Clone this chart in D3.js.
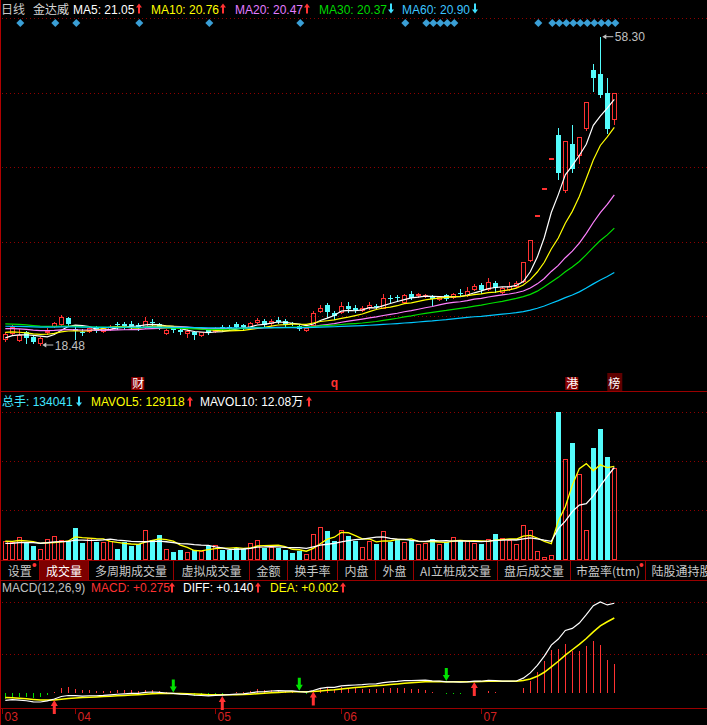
<!DOCTYPE html>
<html><head><meta charset="utf-8">
<script src="https://cdn.jsdelivr.net/npm/d3@7/dist/d3.min.js"></script>
<style>
html,body{margin:0;padding:0;background:#000;overflow:hidden;}
svg{display:block;}
text{font-family:"Liberation Sans",Arial,"Noto Sans CJK SC",sans-serif;font-size:12px;}
.cjk{font-family:"Noto Sans CJK SC","Liberation Sans",sans-serif;}
</style></head><body>
<svg id="chart" width="707" height="725"></svg>
<script>
// ---------------- DATA ----------------
const opens = [19.22,20.00,19.13,20.20,19.47,18.70,20.22,20.93,21.19,21.93,
 20.51,20.20,20.33,20.77,20.33,20.51,21.19,21.15,21.19,21.05,
 20.84,21.49,21.19,19.99,20.64,20.42,19.99,20.20,19.77,20.42,
 20.33,20.84,20.84,21.19,21.05,20.84,21.45,21.62,21.28,21.71,
 21.62,21.36,20.93,20.42,21.06,22.91,23.65,22.60,22.70,23.52,
 23.30,23.00,23.40,23.52,23.30,24.55,24.64,24.07,25.03,24.90,
 24.90,24.80,24.38,24.94,24.64,25.20,24.94,25.68,26.23,25.71,
 26.53,25.36,25.71,26.14,26.75,29.50,35.27,38.79,42.67,45.60,
 38.50,44.44,43.02,46.55,54.00,53.48,51.03,47.63];
const highs = [20.20,21.06,20.51,20.30,19.64,19.47,20.68,21.49,22.30,22.05,
 20.84,20.51,20.80,20.90,20.80,21.00,21.50,21.40,21.60,21.35,
 22.06,21.80,21.30,20.60,20.90,20.60,20.50,20.30,20.20,20.60,
 20.80,21.00,21.00,21.50,21.20,21.50,22.00,21.80,21.80,22.06,
 21.80,21.50,21.10,20.80,22.87,23.65,23.90,22.90,23.99,24.00,
 23.60,23.50,24.00,23.80,25.07,25.00,25.00,25.10,25.45,25.20,
 25.10,24.90,24.85,25.10,25.20,25.71,25.93,26.30,26.45,27.10,
 26.70,26.00,26.58,26.70,29.15,32.06,35.27,38.79,42.67,46.55,
 44.83,46.90,45.35,49.87,54.77,58.30,52.93,51.03];
const lows = [19.04,19.77,18.99,18.70,18.75,18.48,19.90,20.85,21.00,21.00,
 19.22,19.77,20.20,20.10,20.20,20.40,20.60,20.60,20.70,20.42,
 20.70,21.10,20.50,19.90,20.20,19.90,19.55,19.22,19.60,19.90,
 20.20,20.40,20.50,20.70,20.60,20.70,21.30,20.90,21.10,21.30,
 20.90,21.00,20.40,20.30,20.80,22.74,22.13,21.90,22.60,22.78,
 22.80,22.90,23.10,23.10,23.20,24.07,24.30,24.00,24.40,24.72,
 24.70,23.65,24.30,24.30,24.55,24.85,24.85,25.55,25.16,25.60,
 25.36,25.20,25.60,26.00,26.60,29.30,35.27,38.79,42.67,39.92,
 38.28,40.80,42.03,46.25,51.33,50.47,45.83,47.02];
const closes = [19.86,20.77,19.77,19.35,18.83,19.35,20.35,21.28,22.14,21.19,
 20.33,20.03,20.64,20.33,20.64,20.84,21.03,20.98,20.98,20.84,
 21.62,21.28,20.64,20.42,20.42,20.20,20.29,19.77,20.12,19.99,
 20.64,20.51,20.64,20.84,20.77,21.36,21.71,21.06,21.62,21.50,
 21.06,21.19,20.51,20.64,22.57,23.30,22.70,22.20,23.52,23.09,
 23.00,23.26,23.65,23.39,24.51,24.42,24.51,24.90,24.51,25.03,
 25.00,24.38,24.72,24.38,25.07,25.07,25.45,26.14,25.58,26.58,
 25.80,25.80,26.14,26.53,29.15,32.06,35.27,38.79,42.67,40.74,
 44.83,41.21,45.35,49.87,53.00,50.77,46.38,51.03];
const volumes = [138400,125700,165400,118600,101500,78100,149100,172500,142000,132800,
 227200,118600,156200,125700,125700,137000,78100,125700,101500,113600,
 213000,142000,179600,78100,58900,71000,58900,71000,66000,101500,
 108600,71000,71000,85200,78100,120700,142000,83100,94400,83100,
 73100,47600,66000,42600,184600,236400,208000,137000,213000,172500,
 132800,92300,134900,113600,205900,127800,149100,127800,142000,113600,
 120700,149100,113600,127800,163300,142000,134900,120700,113600,149100,
 184600,156200,142000,113600,248500,213000,63900,21300,35500,1050800,
 717100,830700,610600,213000,795200,930100,731300,653200];

// moving-average periods and their values at the first visible bar
const maPeriods = [5, 10, 20, 30, 60];
const maStartValues = [19.40, 20.10, 20.60, 21.20, 20.90];
const volMaPeriods = [5, 10];
const volMaStartValues = [133000, 118000];
// MACD state before the first visible bar (estimated from chart)
const macdSeedEma12 = 20.72, macdSeedEma26 = 21.20, macdSeedDea = -0.25;

const monthLabels = ["03","04","05","06","07"];
const monthStartIndex = [-0.5, 10, 30, 48, 68];
const signalIndex = [2, 7, 10, 19, 29, 42, 57, 60, 61, 62, 63, 64, 76, 78, 79, 80, 81, 82, 83, 84, 85, 86, 87];
const eventIndex = [19, 47, 81, 87];
const eventLabels = ["财", "q", "港", "榜"];
const goldCrossIndex = [7, 31, 44, 67];
const deadCrossIndex = [24, 42, 63];

const headerLabels = ["MA5: 21.05","MA10: 20.76","MA20: 20.47","MA30: 20.37","MA60: 20.90"];
const headerUp = [true, true, true, false, false];
const volHeaderLabels = ["总手: 134041","MAVOL5: 129118","MAVOL10: 12.08万"];
const volHeaderUp = [false, true, true];
const macdHeaderLabels = ["MACD(12,26,9)","MACD: +0.275","DIFF: +0.140","DEA: +0.002"];
const tabLabels = ["设置","成交量","多周期成交量","虚拟成交量","金额","换手率","内盘","外盘","AI立桩成交量","盘后成交量","市盈率(ttm)","陆股通持股"];

// ---------------- STYLE / LAYOUT ----------------
const RED = "#ff3232", CYAN = "#54fcfc", GRID = "#8f0000", BORDER = "#9a0000";
const maColors = ["#ffffff", "#ffff00", "#ff80ff", "#00e000", "#00c8ff"];
const maTextColors = ["#ffffff", "#ffff00", "#e27cff", "#00d800", "#3cc4ff"];
const svg = d3.select("#chart");
const N = closes.length;
const idx = d3.range(N);

svg.append("rect").attr("width", 707).attr("height", 725).attr("fill", "#000");

const x = d3.scaleLinear().domain([0, N - 1]).range([5.3, 614.3]);
const cxOf = i => Math.round(x(i));
const yP = d3.scaleLinear().domain([d3.min(lows), d3.max(highs)]).range([345, 36.7]);
const VB = 560;
const yV = d3.scaleLinear().domain([0, d3.max(volumes)]).range([VB, 412]);

const isUp = i => closes[i] > opens[i] || (closes[i] === opens[i] && (i === 0 || closes[i] >= closes[i - 1]));

function seededMA(vals, n, start) {
  const h = (n * start - vals[0]) / (n - 1);
  return vals.map((_, i) => {
    const lo = Math.max(0, i - n + 1);
    const s = d3.sum(vals.slice(lo, i + 1));
    const missing = n - (i + 1 - lo);
    return (s + missing * h) / n;
  });
}
function ema(vals, n, seed) {
  const k = 2 / (n + 1); let prev = seed;
  return vals.map(v => (prev = prev * (1 - k) + v * k));
}

// ---------------- GRID / BORDERS ----------------
const grid = svg.append("g").attr("shape-rendering", "crispEdges");
const dotted = (y) => grid.append("line").attr("x1", 2).attr("x2", 707).attr("y1", Math.round(y) + 0.5).attr("y2", Math.round(y) + 0.5)
  .attr("stroke", GRID).attr("stroke-dasharray", "1,3");
[0, 1, 2, 3, 4].forEach(k => dotted(18 + k * 74.6));
[412, 461, 510].forEach(dotted);
[602, 654].forEach(dotted);
const solid = (y) => grid.append("line").attr("x1", 0).attr("x2", 707).attr("y1", y).attr("y2", y).attr("stroke", BORDER);
solid(391.5); solid(560.5); solid(580.5); solid(708.5);
grid.append("line").attr("x1", 0.5).attr("x2", 0.5).attr("y1", 0).attr("y2", 725).attr("stroke", "#b00000");

// ---------------- HEADER ----------------
function arrow(g, cx, yTop, up, color) {
  const h = 10;
  if (up) {
    g.append("path").attr("d", `M${cx},${yTop} L${cx - 3},${yTop + 4} L${cx - 1},${yTop + 4} L${cx - 1},${yTop + h} L${cx + 1},${yTop + h} L${cx + 1},${yTop + 4} L${cx + 3},${yTop + 4} Z`).attr("fill", color);
  } else {
    g.append("path").attr("d", `M${cx},${yTop + h} L${cx - 3},${yTop + h - 4} L${cx - 1},${yTop + h - 4} L${cx - 1},${yTop} L${cx + 1},${yTop} L${cx + 1},${yTop + h - 4} L${cx + 3},${yTop + h - 4} Z`).attr("fill", color);
  }
}
const hdr = svg.append("g");
hdr.append("text").attr("class", "cjk").attr("x", 1).attr("y", 13.5).attr("fill", "#c8c8c8").text("日线");
hdr.append("text").attr("class", "cjk").attr("x", 33).attr("y", 13.5).attr("fill", "#d8d8d8").text("金达威");
const hdrX = [73, 151, 235, 319, 402], hdrArrowX = [139, 223, 307, 391, 475];
headerLabels.forEach((t, k) => {
  hdr.append("text").attr("x", hdrX[k]).attr("y", 13.5).attr("fill", maTextColors[k]).text(t);
  arrow(hdr, hdrArrowX[k], 3.5, headerUp[k], headerUp[k] ? RED : "#40e0ff");
});

// diamonds
svg.append("g").selectAll("path").data(signalIndex).join("path")
  .attr("d", i => { const c = x(i) + 1; return `M${c},19 L${c + 4},23 L${c},27 L${c - 4},23 Z`; })
  .attr("fill", "#3a9fd6");

// ---------------- CANDLES ----------------
const gC = svg.append("g").attr("shape-rendering", "crispEdges");
idx.forEach(i => {
  const cx = cxOf(i);
  const yH = Math.round(yP(highs[i])), yL = Math.round(yP(lows[i]));
  const yO = Math.round(yP(opens[i])), yC = Math.round(yP(closes[i]));
  if (highs[i] === lows[i]) {
    gC.append("rect").attr("x", cx - 2).attr("y", yC).attr("width", 5).attr("height", 1.5).attr("fill", RED);
    return;
  }
  const top = Math.min(yO, yC);
  if (isUp(i)) {
    const bot = Math.max(top + 1, Math.max(yO, yC));
    if (yH < top) gC.append("line").attr("x1", cx + 0.5).attr("x2", cx + 0.5).attr("y1", yH).attr("y2", top).attr("stroke", RED);
    if (yL > bot) gC.append("line").attr("x1", cx + 0.5).attr("x2", cx + 0.5).attr("y1", bot + 1).attr("y2", yL + 1).attr("stroke", RED);
    gC.append("rect").attr("x", cx - 1.5).attr("y", top + 0.5).attr("width", 4).attr("height", bot - top)
      .attr("fill", "none").attr("stroke", RED);
  } else {
    const bot = Math.max(top + 1, Math.max(yO, yC));
    gC.append("line").attr("x1", cx + 0.5).attr("x2", cx + 0.5).attr("y1", yH).attr("y2", yL + 1).attr("stroke", CYAN);
    gC.append("rect").attr("x", cx - 2).attr("y", top).attr("width", 5).attr("height", bot - top).attr("fill", CYAN);
  }
});

// MA lines
const mas = maPeriods.map((n, k) => seededMA(closes, n, maStartValues[k]));
const lineP = d3.line().x((d, i) => x(i)).y(d => yP(d));
svg.append("g").selectAll("path").data(mas).join("path")
  .attr("d", lineP).attr("fill", "none").attr("stroke", (d, k) => maColors[k]).attr("stroke-width", 1.2);

// high / low labels
const lo = d3.minIndex(lows), hi = d3.maxIndex(highs);
const lab = svg.append("g");
function extLabel(i, price) {
  const cx = x(i), y = yP(price);
  lab.append("path").attr("d", `M${cx + 2},${y} L${cx + 6},${y - 2.5} L${cx + 6},${y + 2.5} Z`).attr("fill", "#c0c0c0");
  lab.append("line").attr("x1", cx + 5).attr("x2", cx + 13).attr("y1", y).attr("y2", y).attr("stroke", "#c0c0c0");
  lab.append("text").attr("x", cx + 14.5).attr("y", y + 4.5).attr("fill", "#c0c0c0").text(price.toFixed(2));
}
extLabel(lo, lows[lo]);
extLabel(hi, highs[hi]);

// event markers
const ev = svg.append("g");
eventIndex.forEach((i, k) => {
  const cx = x(i);
  const t = eventLabels[k];
  if (t === "q") {
    ev.append("text").attr("x", cx).attr("y", 387).attr("text-anchor", "middle").attr("fill", RED).attr("font-weight", "bold").text(t);
    return;
  }
  const big = t === "榜";
  ev.append("rect").attr("x", cx - 7).attr("y", big ? 373 : 377).attr("width", big ? 15 : 13).attr("height", big ? 18 : 13)
    .attr("fill", big ? "#5e0000" : "#8a0000");
  ev.append("text").attr("class", "cjk").attr("x", cx).attr("y", 388).attr("text-anchor", "middle").attr("fill", "#ffffff").attr("font-size", "12px").text(t);
});

// ---------------- VOLUME ----------------
const vh = svg.append("g");
const vhX = [2, 91, 200], vhArrowX = [79, 190, 309], vhColors = ["#40e8ff", "#ffff00", "#ffffff"];
volHeaderLabels.forEach((t, k) => {
  vh.append("text").attr("x", vhX[k]).attr("y", 406).attr("fill", vhColors[k]).text(t);
  arrow(vh, vhArrowX[k], 396.5, volHeaderUp[k], volHeaderUp[k] ? RED : "#40e0ff");
});
const gV = svg.append("g").attr("shape-rendering", "crispEdges");
idx.forEach(i => {
  const cx = cxOf(i), yt = Math.round(yV(volumes[i]));
  if (isUp(i)) {
    gV.append("rect").attr("x", cx - 1.5).attr("y", yt + 0.5).attr("width", 4).attr("height", Math.max(1, VB - yt - 1))
      .attr("fill", "none").attr("stroke", RED);
  } else {
    gV.append("rect").attr("x", cx - 2).attr("y", yt).attr("width", 5).attr("height", VB - yt).attr("fill", CYAN);
  }
});
const vmas = volMaPeriods.map((n, k) => seededMA(volumes, n, volMaStartValues[k]));
const lineV = d3.line().x((d, i) => x(i)).y(d => yV(d));
svg.append("g").selectAll("path").data(vmas).join("path")
  .attr("d", lineV).attr("fill", "none").attr("stroke", (d, k) => k === 0 ? "#ffff00" : "#ffffff").attr("stroke-width", 1.3);

// ---------------- TABS ----------------
const tabSep = [39.5, 88.5, 173.5, 249.5, 287.5, 337.5, 375.5, 413.5, 497.5, 570.5, 645.5];
const tb = svg.append("g");
tb.append("rect").attr("x", tabSep[0]).attr("y", 561).attr("width", tabSep[1] - tabSep[0]).attr("height", 19).attr("fill", "#7d0000");
tabSep.forEach(s => tb.append("line").attr("x1", s).attr("x2", s).attr("y1", 561).attr("y2", 580).attr("stroke", BORDER).attr("shape-rendering", "crispEdges"));
tabLabels.forEach((t, k) => {
  const l = k === 0 ? 0 : tabSep[k - 1];
  const r = k < tabSep.length ? tabSep[k] : 707;
  const last = k === tabLabels.length - 1;
  tb.append("text").attr("class", "cjk").attr("x", last ? l + 6 : (l + r) / 2).attr("y", 576)
    .attr("text-anchor", last ? "start" : "middle").attr("fill", k === 1 ? "#ffffff" : "#c8c8c8").text(t);
});
[tabSep[0] - 5, tabSep[10] - 4].forEach(cx => tb.append("circle").attr("cx", cx).attr("cy", 565).attr("r", 2).attr("fill", RED));

// ---------------- MACD ----------------
const e12 = ema(closes, 12, macdSeedEma12), e26 = ema(closes, 26, macdSeedEma26);
const diff = e12.map((v, i) => v - e26[i]);
const dea = ema(diff, 9, macdSeedDea);
const macd = diff.map((v, i) => 2 * (v - dea[i]));
const yM = d3.scaleLinear().domain(d3.extent(diff.concat(dea, macd))).range([702, 602]);

const mh = svg.append("g");
const mhX = [2, 91, 183, 270], mhColors = ["#c0c0c0", "#ff3232", "#ffffff", "#ffff00"];
macdHeaderLabels.forEach((t, k) => {
  mh.append("text").attr("x", mhX[k]).attr("y", 592).attr("fill", mhColors[k]).text(t);
});
[172, 258, 343].forEach(ax => arrow(mh, ax, 582.5, true, RED));

const y0 = Math.round(yM(0));
svg.append("g").attr("shape-rendering", "crispEdges").selectAll("line").data(idx).join("line")
  .attr("x1", i => cxOf(i) + 0.5).attr("x2", i => cxOf(i) + 0.5)
  .attr("y1", y0).attr("y2", i => Math.round(yM(macd[i])))
  .attr("stroke", i => macd[i] >= 0 ? RED : "#00dd00");
const lineM = d3.line().x((d, i) => x(i)).y(d => yM(d));
svg.append("path").attr("d", lineM(dea)).attr("fill", "none").attr("stroke", "#ffff00").attr("stroke-width", 1.5);
svg.append("path").attr("d", lineM(diff)).attr("fill", "none").attr("stroke", "#ffffff").attr("stroke-width", 1.2);

const sig = svg.append("g");
goldCrossIndex.forEach(i => {
  const c = x(i), t = yM(diff[i]) + 1;
  sig.append("path").attr("d", `M${c},${t} L${c + 3.5},${t + 6} L${c + 1.5},${t + 6} L${c + 1.5},${t + 14} L${c - 1.5},${t + 14} L${c - 1.5},${t + 6} L${c - 3.5},${t + 6} Z`).attr("fill", RED);
});
deadCrossIndex.forEach(i => {
  const c = x(i), t = yM(diff[i]) - 1;
  sig.append("path").attr("d", `M${c},${t} L${c + 3.5},${t - 6} L${c + 1.5},${t - 6} L${c + 1.5},${t - 13} L${c - 1.5},${t - 13} L${c - 1.5},${t - 6} L${c - 3.5},${t - 6} Z`).attr("fill", "#00e000");
});

// ---------------- TIME AXIS ----------------
const ax = svg.append("g");
monthStartIndex.forEach((mi, k) => {
  const tx = Math.round(x(mi)) + 0.5;
  ax.append("line").attr("x1", tx).attr("x2", tx).attr("y1", 708).attr("y2", 714).attr("stroke", BORDER).attr("shape-rendering", "crispEdges");
  ax.append("text").attr("x", tx + 2).attr("y", 721).attr("fill", "#d42020").attr("font-size", "12px").text(monthLabels[k]);
});
</script></body></html>
